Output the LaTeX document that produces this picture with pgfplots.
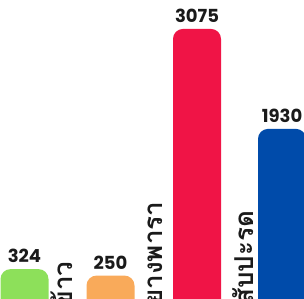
\documentclass[border=0pt]{standalone}
\usepackage{pgfplots}
\usepackage{pgfplotstable}
\pgfplotsset{compat=1.18}
\usepackage{fontspec}
\setmainfont{Poppins}
\newfontfamily\thaifont[Script=Thai]{Loma}
\definecolor{cgreen}{HTML}{8DE05A}
\definecolor{corange}{HTML}{F9AA5A}
\definecolor{cred}{HTML}{F01446}
\definecolor{cblue}{HTML}{004BAA}
\definecolor{ctext}{HTML}{1A1A1A}
\pgfplotstableread{
x v
24.5 324
}\dA
\pgfplotstableread{
x v
110.5 250
}\dB
\pgfplotstableread{
x v
197 3075
}\dC
\pgfplotstableread{
x v
282 1930
}\dD
\begin{document}
\begin{tikzpicture}
\clip (0,0) rectangle (304bp,299bp);
\begin{axis}[
  at={(0,-50bp)}, anchor=south west,
  scale only axis, width=304bp, height=349bp,
  xmin=0, xmax=304, ymin=-291, ymax=3706.4,
  hide axis, clip=false,
  ybar, bar width=48, bar shift=0pt,
  nodes near coords, point meta=explicit symbolic,
  every node near coord/.append style={anchor=base, yshift=6.5bp, font=\bfseries\fontsize{18bp}{18bp}\selectfont, text=ctext},
]
\addplot[fill=cgreen, draw=none, rounded corners=10bp] table[x=x, y expr=\thisrow{v}+300, meta=v]{\dA};
\addplot[fill=corange, draw=none, rounded corners=10bp] table[x=x, y expr=\thisrow{v}+300, meta=v]{\dB};
\addplot[fill=cred, draw=none, rounded corners=10bp] table[x=x, y expr=\thisrow{v}+300, meta=v]{\dC};
\addplot[fill=cblue, draw=none, rounded corners=10bp] table[x=x, y expr=\thisrow{v}+300, meta=v]{\dD};
\node[rotate=90, anchor=base west, inner sep=0pt, text=ctext, font=\thaifont\bfseries\fontsize{26bp}{26bp}\selectfont] at (axis cs:72,170) {ข้าว};
\node[rotate=90, anchor=base west, inner sep=0pt, text=ctext, font=\thaifont\bfseries\fontsize{26bp}{26bp}\selectfont] at (axis cs:162,215) {ยางพารา};
\node[rotate=90, anchor=base west, inner sep=0pt, text=ctext, font=\thaifont\bfseries\fontsize{26bp}{26bp}\selectfont] at (axis cs:253,215) {สับปะรด};
\end{axis}
\end{tikzpicture}
\end{document}
